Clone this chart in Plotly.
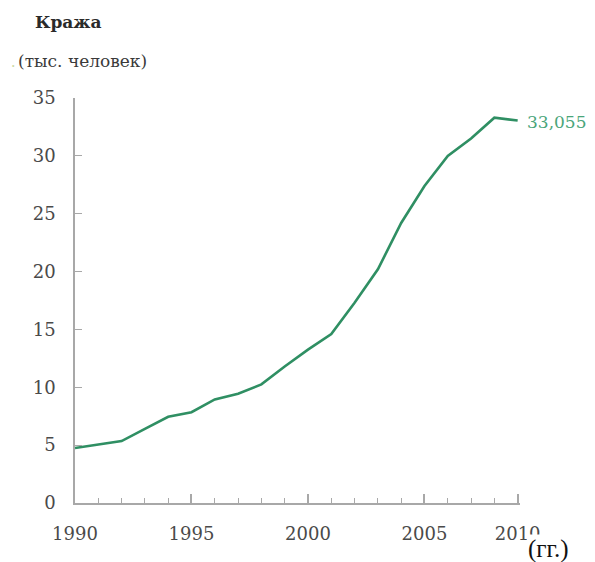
import plotly.graph_objects as go

years = list(range(1990, 2010))
values = [4.75, 5.05, 5.35, 6.4, 7.45, 7.85, 8.95, 9.45, 10.25, 11.8,
          13.25, 14.6, 17.3, 20.2, 24.2, 27.4, 30.0, 31.5, 33.3, 33.055]
tick_vals = [1990, 1995, 2000, 2005, 2009]
tick_text = ["1990", "1995", "2000", "2005", "2010"]
y_ticks = [0, 5, 10, 15, 20, 25, 30, 35]
end_label = "33,055"

LINE = "#2f8f63"
AXIS = "#a8a8a8"
TXT = "#4a4a4a"
FONT = "DejaVu Serif"

W, H = 595, 562
OFF = 8  # page offset of the figure inside the window
ml, mr, mt, mb = 75 - OFF, 83, 98 - OFF, 67


def px_x(px):
    return (px - OFF - ml) / (W - ml - mr)


def px_y(py):
    return (H - mb - (py - OFF)) / (H - mt - mb)


fig = go.Figure()
fig.add_trace(go.Scatter(x=years, y=values, mode="lines",
                         line=dict(color=LINE, width=2.6), hoverinfo="skip"))

fig.add_annotation(x=years[-1], y=values[-1], xref="x", yref="y",
                   text=end_label, showarrow=False, xanchor="left",
                   xshift=7, yshift=-1,
                   font=dict(family=FONT, size=17, color="#4aa57a"))
fig.add_annotation(x=px_x(33), y=px_y(22), xref="paper", yref="paper",
                   text="<b>Кража</b>", showarrow=False, xanchor="left", yanchor="middle",
                   font=dict(family=FONT, size=17, color="#2a2a2a"))
fig.add_annotation(x=px_x(16), y=px_y(61), xref="paper", yref="paper",
                   text="(тыс. человек)", showarrow=False, xanchor="left", yanchor="middle",
                   font=dict(family=FONT, size=17, color="#3a3a3a"))
fig.add_annotation(x=px_x(9), y=px_y(62), xref="paper", yref="paper",
                   text=".", showarrow=False, xanchor="left", yanchor="middle",
                   font=dict(family=FONT, size=14, color="#c8d8a0"))
fig.add_annotation(x=px_x(527), y=px_y(549), xref="paper", yref="paper",
                   text="(гг.)", showarrow=False, xanchor="left", yanchor="middle",
                   bgcolor="white", borderpad=0,
                   font=dict(family="Liberation Serif", size=25, color="#111111"))

fig.update_layout(
    width=W, height=H,
    margin=dict(l=ml, r=mr, t=mt, b=mb),
    plot_bgcolor="white", paper_bgcolor="white",
    showlegend=False,
    font=dict(family=FONT, size=18, color=TXT),
    xaxis=dict(range=[1990, 2009.1], tickvals=tick_vals, ticktext=tick_text,
               showgrid=False, zeroline=False, showline=True, linecolor=AXIS,
               linewidth=1.5, ticks="inside", ticklen=9, tickcolor=AXIS, tickwidth=1.5,
               minor=dict(ticks="inside", dtick=1, tick0=1990, ticklen=5,
                          tickcolor=AXIS, tickwidth=1.2, showgrid=False),
               tickfont=dict(family=FONT, size=18, color=TXT),
               ticklabelstandoff=14),
    yaxis=dict(range=[0, 35], tickvals=y_ticks,
               showgrid=False, zeroline=False, showline=True, linecolor=AXIS,
               linewidth=1.5, ticks="inside", ticklen=7, tickcolor=AXIS, tickwidth=1.2,
               tickfont=dict(family=FONT, size=18, color=TXT),
               ticklabelstandoff=14),
)

fig.write_html("out.html")
